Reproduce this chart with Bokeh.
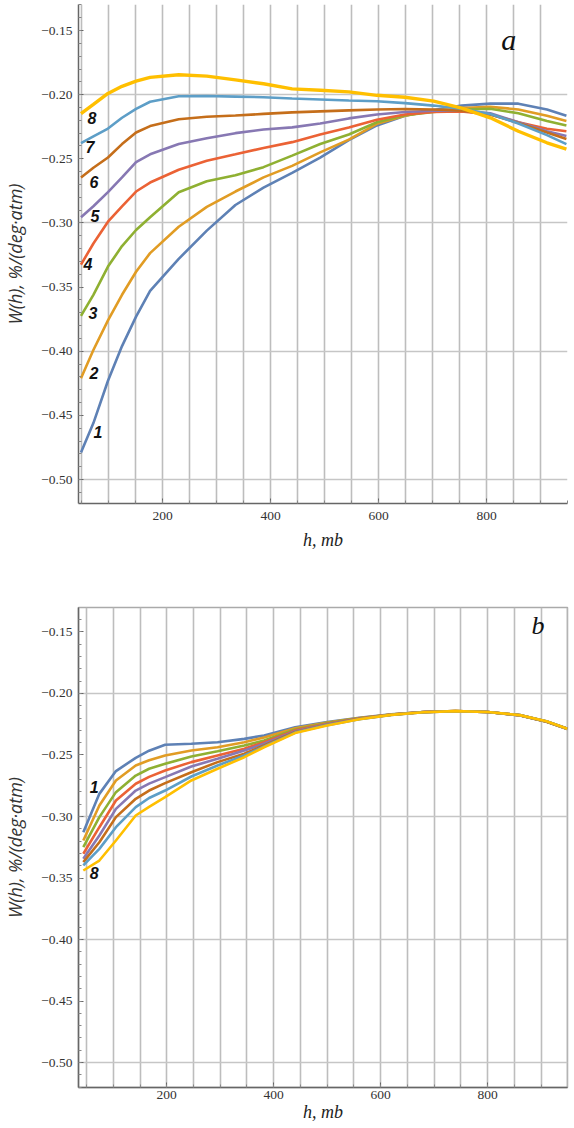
from bokeh.plotting import figure
from bokeh.layouts import column
from bokeh.models import (FixedTicker, CustomJSTickFormatter, Range1d,
                          ColumnDataSource, Label)
from bokeh.embed import file_html
from bokeh.resources import INLINE
from bokeh.core.properties import value

# ---------------- data: panel a ----------------
h_a = [49, 72, 99, 125, 151, 177, 230, 282, 335, 387, 440, 492, 545, 597, 649,
       702, 754, 807, 859, 912, 948]
w1_a = [-0.479, -0.456, -0.423, -0.396, -0.373, -0.353, -0.328, -0.306, -0.286, -0.2725,
        -0.261, -0.249, -0.2355, -0.224, -0.2165, -0.212, -0.2085, -0.207, -0.207, -0.2115, -0.2165]
w2_a = [-0.421, -0.399, -0.376, -0.356, -0.338, -0.3235, -0.303, -0.2875, -0.2755, -0.2645,
        -0.2555, -0.245, -0.235, -0.2227, -0.2165, -0.2125, -0.2105, -0.2095, -0.2115, -0.2165, -0.2205]
w3_a = [-0.3725, -0.356, -0.334, -0.318, -0.3055, -0.2955, -0.276, -0.2675, -0.2628, -0.2565,
        -0.2475, -0.2385, -0.231, -0.2215, -0.216, -0.2135, -0.2115, -0.211, -0.2145, -0.2205, -0.224]
w4_a = [-0.3325, -0.316, -0.299, -0.287, -0.2755, -0.2685, -0.2585, -0.2515, -0.2465, -0.2415,
        -0.237, -0.231, -0.2255, -0.2195, -0.2155, -0.2135, -0.213, -0.2155, -0.2215, -0.2265, -0.2285]
w5_a = [-0.2955, -0.287, -0.276, -0.2645, -0.2525, -0.2465, -0.2385, -0.234, -0.230, -0.2272,
        -0.2255, -0.2225, -0.2185, -0.2155, -0.2135, -0.2125, -0.2125, -0.2145, -0.2215, -0.2285, -0.2322]
w6_a = [-0.2645, -0.257, -0.249, -0.2385, -0.2295, -0.2245, -0.2192, -0.2172, -0.2162, -0.215,
        -0.2138, -0.213, -0.2122, -0.2115, -0.2112, -0.2115, -0.2125, -0.2155, -0.222, -0.2295, -0.2345]
w7_a = [-0.2378, -0.2325, -0.2264, -0.218, -0.211, -0.2055, -0.2012, -0.201, -0.2015, -0.202,
        -0.203, -0.2037, -0.2045, -0.2051, -0.2066, -0.2085, -0.211, -0.215, -0.2225, -0.2315, -0.2385]
w8_a = [-0.2147, -0.2075, -0.199, -0.1935, -0.1895, -0.1865, -0.1845, -0.1855, -0.1885, -0.1915,
        -0.1955, -0.1965, -0.1978, -0.2005, -0.202, -0.205, -0.2105, -0.218, -0.2285, -0.2375, -0.2425]

# ---------------- data: panel b ----------------
h_b = [44, 74, 105, 142, 167, 197, 246, 295, 345, 382, 440, 500, 560, 620, 680, 740, 800, 860, 910, 949]
w1_b = [-0.3128, -0.2816, -0.2631, -0.2523, -0.2465, -0.2417, -0.2409, -0.2396, -0.2369, -0.2341, -0.2275,
        -0.2232, -0.2198, -0.2170, -0.2150, -0.2143, -0.2150, -0.2178, -0.2229, -0.2288]
w2_b = [-0.3195, -0.291, -0.2707, -0.2585, -0.2543, -0.2504, -0.2463, -0.2437, -0.2396, -0.2358, -0.2283,
        -0.2236, -0.2200, -0.2171, -0.2150, -0.2143, -0.2150, -0.2177, -0.2229, -0.2288]
w3_b = [-0.3249, -0.3005, -0.2802, -0.2667, -0.2612, -0.2572, -0.2512, -0.2469, -0.2423, -0.2382, -0.2292,
        -0.2241, -0.2202, -0.2172, -0.2151, -0.2143, -0.2150, -0.2177, -0.2228, -0.2287]
w4_b = [-0.3303, -0.3087, -0.287, -0.2734, -0.2678, -0.2626, -0.2558, -0.2504, -0.245, -0.2396, -0.2300,
        -0.2246, -0.2204, -0.2172, -0.2151, -0.2143, -0.2151, -0.2177, -0.2228, -0.2287]
w5_b = [-0.3344, -0.3154, -0.2938, -0.2789, -0.2733, -0.268, -0.2593, -0.2531, -0.2463, -0.2409, -0.2307,
        -0.2250, -0.2206, -0.2173, -0.2151, -0.2144, -0.2151, -0.2176, -0.2227, -0.2287]
w6_b = [-0.3371, -0.3209, -0.3005, -0.2856, -0.2789, -0.2729, -0.264, -0.2558, -0.249, -0.2423, -0.2313,
        -0.2254, -0.2208, -0.2173, -0.2152, -0.2144, -0.2151, -0.2176, -0.2227, -0.2286]
w7_b = [-0.3398, -0.3263, -0.3087, -0.2924, -0.2850, -0.2789, -0.2675, -0.2585, -0.2504, -0.2431, -0.2318,
        -0.2257, -0.2209, -0.2174, -0.2152, -0.2144, -0.2151, -0.2176, -0.2226, -0.2286]
w8_b = [-0.3439, -0.3358, -0.3195, -0.2992, -0.2922, -0.2843, -0.2707, -0.2612, -0.2518, -0.2437, -0.2322,
        -0.2260, -0.2210, -0.2174, -0.2152, -0.2143, -0.2150, -0.2176, -0.2226, -0.2286]

curve_names = ["1", "2", "3", "4", "5", "6", "7", "8"]
colors = ["#5E81B5", "#E19C24", "#8FB032", "#EB6235", "#8778B3", "#C56E1A", "#5D9EC7", "#FFBF00"]

y_ticks = [-0.15, -0.20, -0.25, -0.30, -0.35, -0.40, -0.45, -0.50]
x_ticks = [200, 400, 600, 800]

SERIF = "Liberation Serif"
SANS = "Liberation Sans"


def style(p, xminor, yminor, xl_standoff, xlab_standoff):
    p.background_fill_color = "white"
    p.border_fill_color = "white"
    # grid
    p.xgrid.ticker = FixedTicker(ticks=xminor)
    p.xgrid.grid_line_color = "#bdbdbd"
    p.xgrid.grid_line_width = 1.6
    p.ygrid.ticker = FixedTicker(ticks=[-0.2, -0.3, -0.4, -0.5])
    p.ygrid.grid_line_color = "#c6c6c6"
    p.ygrid.grid_line_width = 1.6
    # axes
    p.xaxis.ticker = FixedTicker(ticks=x_ticks, minor_ticks=xminor)
    p.yaxis.ticker = FixedTicker(ticks=y_ticks, minor_ticks=yminor)
    p.yaxis.formatter = CustomJSTickFormatter(
        code="return '\u2212' + Math.abs(tick).toFixed(2);")
    for ax in (p.xaxis, p.yaxis):
        ax.axis_line_color = "#666666"
        ax.axis_line_width = 1.5
        ax.major_tick_in = 5
        ax.major_tick_out = 0
        ax.minor_tick_in = 3
        ax.minor_tick_out = 0
        ax.major_tick_line_color = "#666666"
        ax.minor_tick_line_color = "#888888"
        ax.major_label_text_font = SERIF
        ax.major_label_text_font_size = "13.5px"
        ax.major_label_text_color = "#333333"
    p.yaxis.axis_label = "W(h), %/(deg\u00b7atm)"
    p.yaxis.axis_label_text_font = "Open Sans"
    p.yaxis.axis_label_text_font_style = "italic"
    p.yaxis.axis_label_text_font_size = "18px"
    p.yaxis.axis_label_text_color = "#333333"
    p.yaxis.major_label_standoff = 6
    p.yaxis.axis_label_standoff = 11
    p.xaxis.axis_label = "h, mb"
    p.xaxis.axis_label_text_font = SERIF
    p.xaxis.axis_label_text_font_style = "italic"
    p.xaxis.axis_label_text_font_size = "18px"
    p.xaxis.axis_label_text_color = "#222222"
    p.xaxis.major_label_standoff = xl_standoff
    p.xaxis.axis_label_standoff = xlab_standoff


xminor = list(range(50, 951, 50))
yminor = [round(-0.13 - 0.01 * i, 2) for i in range(0, 40)]

# ---------------- panel a ----------------
p1 = figure(width=574, height=560, x_range=Range1d(44.4, 950),
            y_range=Range1d(-0.5187, -0.1297), output_backend="svg",
            toolbar_location=None, min_border_left=78, min_border_right=7,
            min_border_top=4, min_border_bottom=57)
p1.outline_line_color = None
style(p1, xminor, yminor, 8, 7)

series_a = [w1_a, w2_a, w3_a, w4_a, w5_a, w6_a, w7_a, w8_a]
for i, w in enumerate(series_a):
    p1.line(h_a, w, line_color=colors[i], line_width=3.4 if i == 7 else 2.6)

lab_dx_a = [17, 13, 12, 7, 14, 13, 9, 11]
lab_dy_a = [-21, -5, -3, -1, -1, 5, 4, 4]
src_a = ColumnDataSource(dict(x=[h_a[0]] * 8, y=[w[0] for w in series_a],
                              t=curve_names, dx=lab_dx_a, dy=lab_dy_a))
p1.text(x="x", y="y", text="t", x_offset="dx", y_offset="dy", source=src_a,
        text_font=value(SANS), text_font_style="bold italic",
        text_font_size="16px", text_color="#111111",
        text_align="center", text_baseline="middle")

p1.add_layout(Label(x=841, y=-0.157, text="a", text_font=SERIF,
                    text_font_style="italic", text_font_size="30px",
                    text_color="#111111", text_align="center",
                    text_baseline="middle"))

# ---------------- panel b ----------------
p2 = figure(width=574, height=568, x_range=Range1d(35, 949.3),
            y_range=Range1d(-0.5203, -0.1301), output_backend="svg",
            toolbar_location=None, min_border_left=72, min_border_right=6,
            min_border_top=47, min_border_bottom=41)
p2.outline_line_color = "#aaaaaa"
p2.outline_line_width = 1.5
style(p2, xminor, yminor, 3, 0)

series_b = [w1_b, w2_b, w3_b, w4_b, w5_b, w6_b, w7_b, w8_b]
for i, w in enumerate(series_b):
    p2.line(h_b, w, line_color=colors[i], line_width=2.6)

src_b = ColumnDataSource(dict(x=[h_b[0], h_b[0]], y=[w1_b[0], w8_b[0]],
                              t=[curve_names[0], curve_names[7]],
                              dx=[11, 11], dy=[-45, 2]))
p2.text(x="x", y="y", text="t", x_offset="dx", y_offset="dy", source=src_b,
        text_font=value(SANS), text_font_style="bold italic",
        text_font_size="16px", text_color="#111111",
        text_align="center", text_baseline="middle")

p2.add_layout(Label(x=894, y=-0.1447, text="b", text_font=SERIF,
                    text_font_style="italic", text_font_size="26px",
                    text_color="#111111", text_align="center",
                    text_baseline="middle"))

layout = column(p1, p2, spacing=0)
open("out.html", "w").write(file_html(layout, INLINE))
